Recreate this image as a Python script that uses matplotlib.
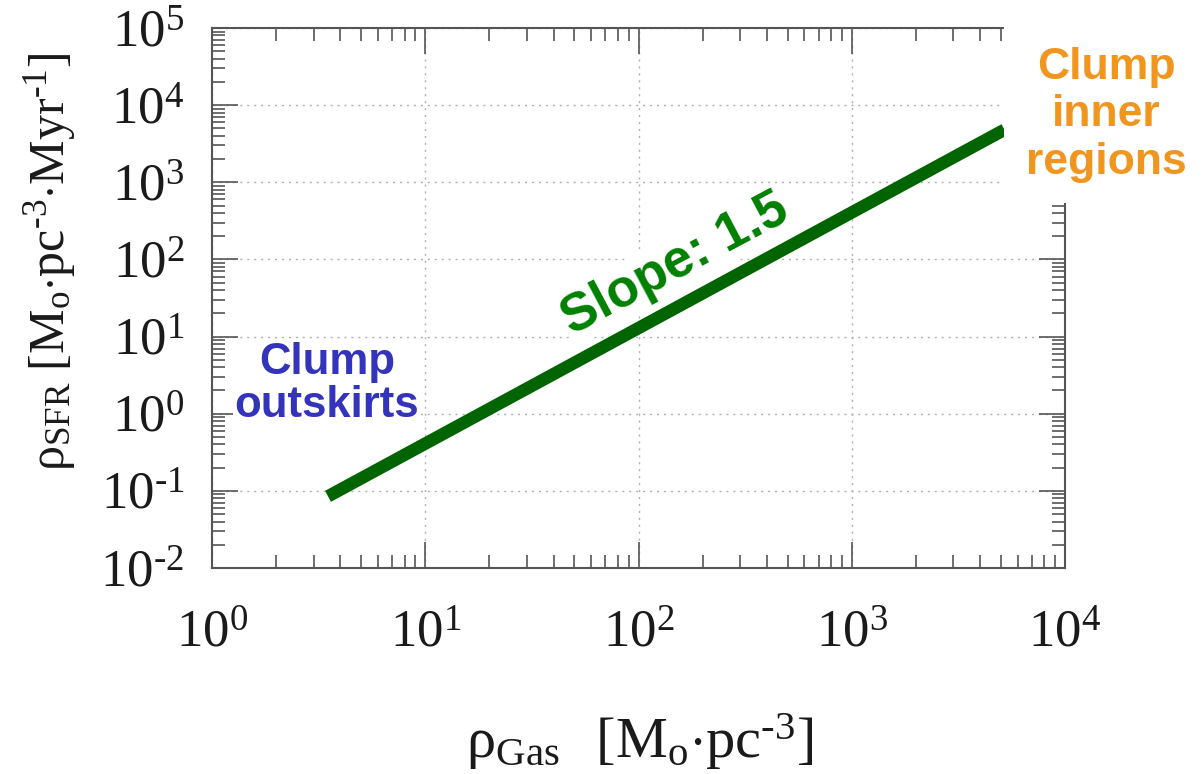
import matplotlib
matplotlib.use("Agg")
import numpy as np
import matplotlib.pyplot as plt
from matplotlib.patches import Rectangle
from matplotlib.ticker import LogLocator, NullFormatter, FuncFormatter

# gas density vs star formation rate density (power law, slope 1.5)
gas_density = [3.5, 5200.0]
sfr_density = [0.085, 4800.0]

x_limits = [1e0, 1e4]
y_limits = [1e-2, 1e5]

plt.rcParams['font.family'] = 'Liberation Serif'
plt.rcParams['mathtext.fontset'] = 'custom'
plt.rcParams['mathtext.rm'] = 'Liberation Serif'
plt.rcParams['mathtext.it'] = 'Liberation Serif:italic'
plt.rcParams['mathtext.bf'] = 'Liberation Serif:bold'
plt.rcParams['axes.unicode_minus'] = False

HY = '\u2010'  # short hyphen for exponents, mathtext turns '-' into a long minus


def power_label(v, pos):
    e = int(round(np.log10(v)))
    return r'$\mathdefault{10^{%s}}$' % str(e).replace('-', HY)


W, H = 1203, 774
fig = plt.figure(figsize=(W / 100, H / 100), dpi=100)
ax = fig.add_axes([212 / W, 1 - 568 / H, 853 / W, 540 / H])

ax.plot(gas_density, sfr_density, color='#006400', lw=9, solid_capstyle='butt', zorder=3)

ax.set_xscale('log')
ax.set_yscale('log')
ax.set_xlim(x_limits)
ax.set_ylim(y_limits)

for axis in (ax.xaxis, ax.yaxis):
    axis.set_major_locator(LogLocator(base=10, numticks=20))
    axis.set_minor_locator(LogLocator(base=10, subs=range(2, 10), numticks=20))
    axis.set_major_formatter(FuncFormatter(power_label))
    axis.set_minor_formatter(NullFormatter())

ax.grid(True, which='major', color='#b0b0b0', lw=1.0, ls=(0, (1.5, 3.5)))
ax.tick_params(which='both', direction='in', top=True, right=True,
               color='#555555', width=1.2, labelsize=38, labelcolor='#1a1a1a')
ax.tick_params(which='major', length=19)
ax.tick_params(which='minor', length=9.5)
ax.tick_params(axis='x', which='major', pad=30)
ax.tick_params(axis='y', which='major', pad=20)
for s in ax.spines.values():
    s.set_color('#555555')
    s.set_linewidth(1.5)

fig.text(640 / W, 1 - 742 / H, r'$\mathrm{\rho_{Gas}\ \ \,[M_o{\cdot}pc^{%s3}]}$' % HY,
         fontsize=42, ha='center', va='center', color='#1a1a1a')
fig.text(50 / W, 1 - 262 / H,
         r'$\mathrm{\rho_{SFR}\ [M_o{\cdot}pc^{%s3}{\cdot}Myr^{%s1}]}$' % (HY, HY),
         fontsize=36, ha='center', va='center', rotation=90, color='#1a1a1a')

ax.text(327, H - 384, 'Clump\noutskirts', transform=None, fontsize=31.5,
        family='Liberation Sans', weight='bold', color='#3333bb',
        ha='center', va='center', linespacing=1.05, zorder=4,
        bbox=dict(facecolor='white', edgecolor='none', pad=1))
ax.text(675, H - 264, 'Slope: 1.5', transform=None, fontsize=38,
        family='Liberation Sans', weight='bold', color='#008000',
        ha='center', va='center', rotation=28, rotation_mode='anchor', zorder=4,
        bbox=dict(facecolor='white', edgecolor='none', pad=1))

# white panel holding the label for the dense end
fig.add_artist(Rectangle((1004 / W, 1 - 203 / H), 1 - 1004 / W, 203 / H,
                         transform=fig.transFigure, facecolor='white',
                         edgecolor='none', zorder=10))
fig.text(1106 / W, 1 - 115 / H, 'Clump\ninner\nregions', fontsize=32,
         family='Liberation Sans', weight='bold', color='#f0961e',
         ha='center', va='center', linespacing=1.2, zorder=11)

fig.savefig('out.png', dpi=100)
